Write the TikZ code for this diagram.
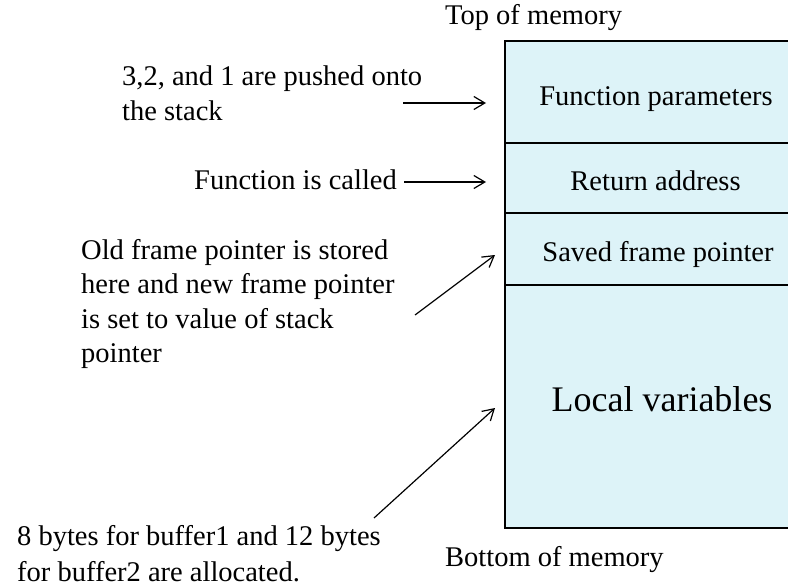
\documentclass[tikz,border=0pt]{standalone}
\usepackage{fontspec}
\setmainfont{Liberation Serif}
\usetikzlibrary{arrows.meta}
\definecolor{cellfill}{HTML}{DDF3F8}
\begin{document}
\begin{tikzpicture}[x=1pt,y=-1pt,
  txt/.style={inner sep=0pt, font=\fontsize{28.5}{35}\selectfont},
  bigtxt/.style={inner sep=0pt, font=\fontsize{36}{42}\selectfont},
  cell/.style={draw=black, line width=1.2pt, fill=cellfill, rectangle, inner sep=0pt, minimum width=305pt},
  arr/.style={line width=1.2pt, -{Straight Barb[length=11pt,width=13pt,line width=1.2pt]}}]
\clip (0,0) rectangle (788,586);
\fill[white] (0,0) rectangle (788,586);
% stack cells
\node[cell, minimum height=102pt] (cfp) at (657.5,92) {};
\node[cell, minimum height=70pt] (cra) at (657.5,178) {};
\node[cell, minimum height=72pt] (csf) at (657.5,249) {};
\node[cell, minimum height=243pt] (clv) at (657.5,406.5) {};
% cell texts
\node[txt, anchor=base] (tfp) at (656,106) {Function parameters};
\node[txt, anchor=base] (tra) at (655.5,190) {Return address};
\node[txt, anchor=base] (tsf) at (658,261) {Saved frame pointer};
\node[bigtxt, anchor=base] (tlv) at (662,411) {Local variables};
% top / bottom labels
\node[txt, anchor=base west] (top) at (445,25) {Top of memory};
\node[txt, anchor=base west] (bot) at (445,566) {Bottom of memory};
% left annotations
\node[txt, anchor=base west] (t1a) at (122,86) {3,2, and 1 are pushed onto};
\node[txt, anchor=base west] (t1b) at (122,121) {the stack};
\node[txt, anchor=base west] (t2) at (194,189) {Function is called};
\node[txt, anchor=base west] (t3a) at (81,259) {Old frame pointer is stored};
\node[txt, anchor=base west] (t3b) at (81,293) {here and new frame pointer};
\node[txt, anchor=base west] (t3c) at (81,328) {is set to value of stack};
\node[txt, anchor=base west] (t3d) at (81,362) {pointer};
\node[txt, anchor=base west] (t4a) at (17,545) {8 bytes for buffer1 and 12 bytes};
\node[txt, anchor=base west] (t4b) at (17,581) {for buffer2 are allocated.};
% arrow endpoints
\coordinate (a1s) at (403,103);
\coordinate (a1e) at (486,103);
\coordinate (a2s) at (404,182);
\coordinate (a2e) at (486,182);
\coordinate (a3s) at (415,315);
\coordinate (a3e) at (495,255);
\coordinate (a4s) at (374,518);
\coordinate (a4e) at (495,408);
\draw[arr] (a1s) -- (a1e);
\draw[arr] (a2s) -- (a2e);
\draw[arr] (a3s) -- (a3e);
\draw[arr] (a4s) -- (a4e);
\end{tikzpicture}
\end{document}
